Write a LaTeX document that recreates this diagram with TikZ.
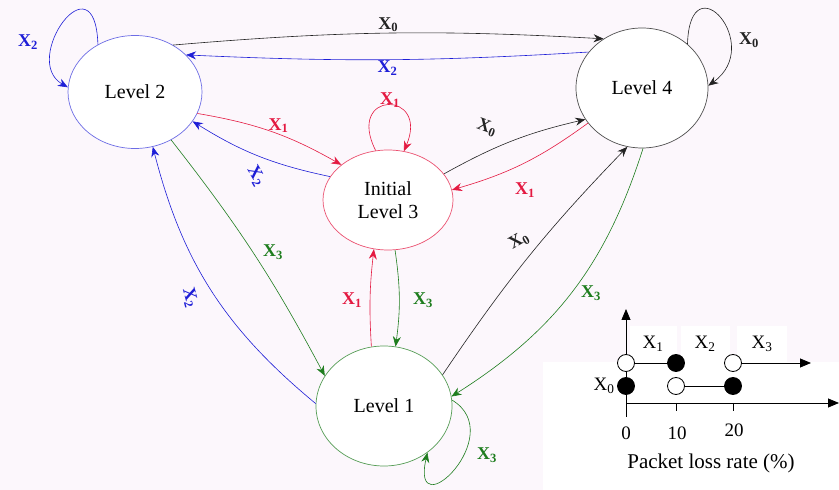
\documentclass[tikz,border=0pt]{standalone}
\usepackage{fontspec}
\setmainfont{Liberation Serif}
\usetikzlibrary{shapes.geometric,arrows.meta}
\definecolor{bg}{RGB}{252,247,252}
\definecolor{eblue}{RGB}{30,30,215}
\definecolor{ered}{RGB}{228,25,65}
\definecolor{egreen}{RGB}{30,125,30}
\definecolor{eblack}{RGB}{35,35,35}
\newcommand{\xs}[1]{X\textsubscript{#1}}

\begin{document}
\begin{tikzpicture}[x=1pt,y=1pt,
  level/.style={ellipse, draw, fill=white, inner sep=0pt, line width=0.7pt, align=center, font=\fontsize{20}{23}\selectfont},
  trans/.style={-{Stealth[length=10pt,width=8pt]}, line width=0.6pt},
  lab/.style={font=\fontsize{18}{20}\selectfont\bfseries, inner sep=1pt},
  dot/.style={circle, draw, line width=0.8pt, minimum size=17pt, inner sep=0pt},
  axis/.style={line width=0.8pt, -{Triangle[length=11pt,width=9pt]}},
  tag/.style={font=\fontsize{19}{21}\selectfont, inner sep=1pt}]
\useasboundingbox (0,0) rectangle (839,490);
\fill[bg] (0,0) rectangle (839,490);
\fill[white] (543,0) rectangle (839,128);

\node (lv2) [level, draw=eblue!65, minimum width=134pt, minimum height=113pt] at (135,398) {Level 2};
\node (lv4) [level, draw=eblack!80, minimum width=132pt, minimum height=120pt] at (642,402) {Level 4};
\node (lv3) [level, draw=ered!75, minimum width=130pt, minimum height=100pt] at (388,290) {Initial\\Level 3};
\node (lv1) [level, draw=egreen!75, minimum width=136pt, minimum height=120pt] at (384,84) {Level 1};

\draw[trans, eblue] (lv2.128) .. controls (95,535) and (20,430) .. (lv2.176)
  node (t22) [lab] at (28,448) {\xs{2}};
\draw[trans, eblack] (lv2.51) to[bend left=4] node (t24) [lab, above] {\xs{0}} (lv4.128);
\draw[trans, eblue] (lv4.146) to[bend left=3] node (t42) [lab, below, eblue] {\xs{2}} (lv2.36);
\draw[trans, eblack] (lv4.44) .. controls (690,530) and (765,445) .. (lv4.2)
  node (t44) [lab] at (749,450) {\xs{0}};
\draw[trans, ered] (lv2.-19) to[bend left=10] node (t23) [lab, above, pos=0.55] {\xs{1}} (lv3.143);
\draw[trans, eblue] (lv3.158) to[bend left=10] (lv2.-27)
  node (t32) [lab, rotate=-60] at (256,314) {\xs{2}};
\draw[trans, ered] (lv3.104) .. controls (345,400) and (430,400) .. (lv3.72)
  node (t33) [lab] at (390,390) {\xs{1}};
\draw[trans, eblack] (lv3.25) to[bend left=8] (lv4.209)
  node (t34) [lab, rotate=-20] at (487,362) {\xs{0}};
\draw[trans, ered] (lv4.213) to[bend left=10] (lv3.9)
  node (t43) [lab] at (525,300) {\xs{1}};
\draw[trans, egreen] (lv2.-53) to[bend left=5] (lv1.153)
  node (t21) [lab] at (273,238) {\xs{3}};
\draw[trans, eblue] (lv1.178) to[bend left=18] (lv2.-72)
  node (t12) [lab, rotate=-75] at (190,192) {\xs{2}};
\draw[trans, ered] (lv1.102) to[bend left=5] (lv3.-106)
  node (t13) [lab] at (352,190) {\xs{1}};
\draw[trans, egreen] (lv3.-82) to[bend left=8] (lv1.79)
  node (t31) [lab] at (423,190) {\xs{3}};
\draw[trans, eblack] (lv1.28) to[bend left=5] (lv4.-104)
  node (t14) [lab, rotate=30] at (519,249) {\xs{0}};
\draw[trans, egreen] (lv4.-89) to[bend left=20] (lv1.8)
  node (t41) [lab] at (591,197) {\xs{3}};
\draw[trans, egreen] (lv1.5) .. controls (510,55) and (410,-40) .. (lv1.-47)
  node (t11) [lab] at (487,35) {\xs{3}};

\node (n0) [tag] at (626,57) {0};
\node (n10) [tag] at (677,57) {10};
\node (n20) [tag] at (734,60) {20};
\node (cap) [font=\fontsize{21}{23}\selectfont] at (711,27) {Packet loss rate (\%)};
\node (x1) [tag, fill=white, minimum width=47pt, minimum height=36pt] at (653,146) {\xs{1}};
\node (x2) [tag, fill=white, minimum width=49pt, minimum height=36pt] at (705,146) {\xs{2}};
\node (x3) [tag, fill=white, minimum width=50pt, minimum height=36pt] at (762,146) {\xs{3}};
\node (x0) [tag] at (604,104) {\xs{0}};
\coordinate (ybot) at (626,73);
\coordinate (ytop) at (626,181);
\coordinate (xa) at (626,87);
\coordinate (xb) at (839,87);
\coordinate (x3end) at (811,127);
\draw[axis] (ybot) -- (ytop);
\draw[axis] (xa) -- (xb);
\draw[line width=0.8pt] (676,87) -- (676,79) (733,87) -- (733,79);
\node (o1) [dot, fill=white] at (626,127) {};
\node (f1) [dot, fill=black] at (676,127) {};
\node (o2) [dot, fill=white] at (733,127) {};
\node (f0) [dot, fill=black] at (626,104) {};
\node (o3) [dot, fill=white] at (676,104) {};
\node (f2) [dot, fill=black] at (733,104) {};
\draw[line width=0.8pt] (o1) -- (f1);
\draw[line width=0.8pt] (o3) -- (f2);
\draw[axis] (o2) -- (x3end);
\end{tikzpicture}
\end{document}
